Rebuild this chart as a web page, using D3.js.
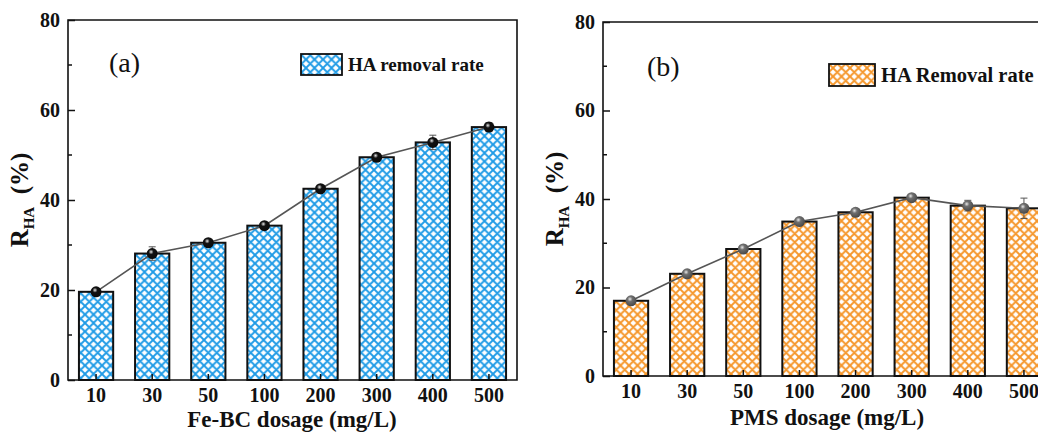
<!DOCTYPE html>
<html>
<head>
<meta charset="utf-8">
<script src="https://cdn.jsdelivr.net/npm/d3@7"></script>
<style>
  html, body { margin: 0; padding: 0; background: #fff; }
  svg { display: block; }
</style>
</head>
<body>
<svg width="1038" height="432"></svg>
<script>
// values
const dosage = ["10", "30", "50", "100", "200", "300", "400", "500"];
const removalFeBC = [19.6, 28.1, 30.5, 34.3, 42.5, 49.5, 52.8, 56.2];
const errFeBC = [0.3, 1.5, 0.6, 0.5, 0.5, 0.6, 1.6, 1.0];
const removalPMS = [17.0, 23.1, 28.7, 34.9, 37.0, 40.3, 38.5, 37.9];
const errPMS = [0.3, 0.4, 0.5, 0.5, 0.5, 0.7, 1.2, 2.3];
const yMajor = [0, 20, 40, 60, 80];
const yMinor = [10, 30, 50, 70];

const svg = d3.select("svg");
const defs = svg.append("defs");

function hatch(id, color) {
  const p = defs.append("pattern")
    .attr("id", id)
    .attr("patternUnits", "userSpaceOnUse")
    .attr("width", 8.5).attr("height", 8.5);
  p.append("rect").attr("width", 8.5).attr("height", 8.5).attr("fill", "#fff");
  p.append("path")
    .attr("d", "M-1,-1 L9.5,9.5 M-1,9.5 L9.5,-1 M-5,3.5 L4,12.5 M4.5,-4 L13,4.5 M-5,5 L4,-4 M4.5,12.5 L13,4")
    .attr("stroke", color).attr("stroke-width", 1.9).attr("fill", "none");
}
hatch("hatchBlue", "#1f9be6");
hatch("hatchOrange", "#f5962a");

function ball(id, base) {
  const g = defs.append("radialGradient")
    .attr("id", id).attr("cx", "40%").attr("cy", "35%").attr("r", "65%");
  g.append("stop").attr("offset", "0%").attr("stop-color", "#e8e8e8");
  g.append("stop").attr("offset", "35%").attr("stop-color", base);
  g.append("stop").attr("offset", "100%").attr("stop-color", d3.color(base).darker(1.2));
}
ball("ballBlack", "#111");
ball("ballGray", "#6f6f6f");

const font = "'Liberation Serif', 'Times New Roman', serif";

function drawPanel(cfg) {
  const x = d3.scaleBand().domain(dosage)
    .range([cfg.left, cfg.left + 449])
    .paddingInner(0.39).paddingOuter(0.195);
  const y = d3.scaleLinear().domain([0, 80]).range([cfg.bottom, cfg.top]);
  const g = svg.append("g");

  const rows = dosage.map((d, i) => ({ d, v: cfg.values[i], e: cfg.errors[i] }));

  // bars
  g.selectAll("rect.bar").data(rows).join("rect")
    .attr("class", "bar")
    .attr("x", r => x(r.d))
    .attr("y", r => y(r.v))
    .attr("width", x.bandwidth())
    .attr("height", r => y(0) - y(r.v))
    .attr("fill", `url(#${cfg.pattern})`)
    .attr("stroke", "#111").attr("stroke-width", 2);

  // frame
  g.append("path")
    .attr("d", `M${cfg.left},${cfg.top} H${cfg.left + 449} V${cfg.bottom} H${cfg.left} Z`)
    .attr("fill", "none").attr("stroke", "#111").attr("stroke-width", 1.6);

  // y axis, ticks inward
  const yAxis = d3.axisLeft(y).tickValues(yMajor).tickSize(-7).tickPadding(8).tickFormat(d3.format("d"));
  const ya = g.append("g").attr("transform", `translate(${cfg.left},0)`).call(yAxis);
  ya.select(".domain").remove();
  ya.selectAll(".tick line").attr("stroke", "#111").attr("stroke-width", 1.5);
  ya.selectAll("text").attr("font-family", font).attr("font-weight", "bold")
    .attr("font-size", 20).attr("fill", "#111");
  g.selectAll("line.minor").data(yMinor).join("line")
    .attr("class", "minor")
    .attr("x1", cfg.left).attr("x2", cfg.left + 4)
    .attr("y1", d => y(d)).attr("y2", d => y(d))
    .attr("stroke", "#111").attr("stroke-width", 1.5);

  // x axis, ticks inward
  const xAxis = d3.axisBottom(x).tickSize(-6).tickPadding(8);
  const xa = g.append("g").attr("transform", `translate(0,${cfg.bottom})`).call(xAxis);
  xa.select(".domain").remove();
  xa.selectAll(".tick line").attr("stroke", "#111").attr("stroke-width", 1.5);
  xa.selectAll("text").attr("font-family", font).attr("font-weight", "bold")
    .attr("font-size", 20).attr("fill", "#111");

  // connecting line
  const cx = r => x(r.d) + x.bandwidth() / 2;
  g.append("path").datum(rows)
    .attr("d", d3.line().x(cx).y(r => y(r.v)))
    .attr("fill", "none").attr("stroke", "#555").attr("stroke-width", 1.6);

  // error bars
  const eb = g.selectAll("g.err").data(rows).join("g").attr("class", "err");
  eb.append("line").attr("x1", cx).attr("x2", cx)
    .attr("y1", r => y(r.v + r.e)).attr("y2", r => y(r.v - r.e))
    .attr("stroke", "#555").attr("stroke-width", 1);
  eb.append("line").attr("x1", r => cx(r) - 3.5).attr("x2", r => cx(r) + 3.5)
    .attr("y1", r => y(r.v + r.e)).attr("y2", r => y(r.v + r.e))
    .attr("stroke", "#555").attr("stroke-width", 1);
  eb.append("line").attr("x1", r => cx(r) - 3.5).attr("x2", r => cx(r) + 3.5)
    .attr("y1", r => y(r.v - r.e)).attr("y2", r => y(r.v - r.e))
    .attr("stroke", "#555").attr("stroke-width", 1);

  // markers
  g.selectAll("circle.pt").data(rows).join("circle")
    .attr("class", "pt")
    .attr("cx", cx).attr("cy", r => y(r.v)).attr("r", 5.5)
    .attr("fill", `url(#${cfg.ball})`);

  // axis titles
  g.append("text")
    .attr("x", cfg.left + 224).attr("y", cfg.bottom + cfg.xTitleDy)
    .attr("text-anchor", "middle")
    .attr("font-family", font).attr("font-weight", "bold").attr("font-size", 23)
    .attr("fill", "#111")
    .text(cfg.xTitle);

  const yt = g.append("text")
    .attr("transform", `translate(${cfg.left - 40},${(cfg.top + cfg.bottom) / 2}) rotate(-90)`)
    .attr("text-anchor", "middle")
    .attr("font-family", font).attr("font-weight", "bold").attr("font-size", 25)
    .attr("fill", "#111");
  yt.append("tspan").text("R");
  yt.append("tspan").attr("font-size", 15).attr("dy", 6).text("HA");
  yt.append("tspan").attr("dy", -6).text("\u2002(%)");

  // panel label
  g.append("text")
    .attr("x", cfg.labelX).attr("y", cfg.labelY)
    .attr("font-family", font).attr("font-size", 28).attr("fill", "#111")
    .text(cfg.label);

  // legend
  g.append("rect")
    .attr("x", cfg.legX).attr("y", cfg.legY)
    .attr("width", cfg.legW).attr("height", cfg.legH)
    .attr("fill", `url(#${cfg.pattern})`)
    .attr("stroke", "#111").attr("stroke-width", 1.8);
  g.append("text")
    .attr("x", cfg.legX + cfg.legW + 6).attr("y", cfg.legY + cfg.legH - 4)
    .attr("font-family", font).attr("font-weight", "bold").attr("font-size", cfg.legFont)
    .attr("fill", "#111")
    .text(cfg.legText);
}

drawPanel({
  left: 68, top: 20, bottom: 380, xTitleDy: 47,
  values: removalFeBC, errors: errFeBC,
  pattern: "hatchBlue", ball: "ballBlack",
  xTitle: "Fe-BC dosage (mg/L)",
  label: "(a)", labelX: 109, labelY: 72,
  legX: 301, legY: 54, legW: 41, legH: 21, legFont: 19,
  legText: "HA removal rate"
});

drawPanel({
  left: 603, top: 22, bottom: 376, xTitleDy: 49,
  values: removalPMS, errors: errPMS,
  pattern: "hatchOrange", ball: "ballGray",
  xTitle: "PMS dosage (mg/L)",
  label: "(b)", labelX: 647, labelY: 76,
  legX: 829, legY: 64, legW: 46, legH: 22, legFont: 20.5,
  legText: "HA Removal rate"
});
</script>
</body>
</html>
